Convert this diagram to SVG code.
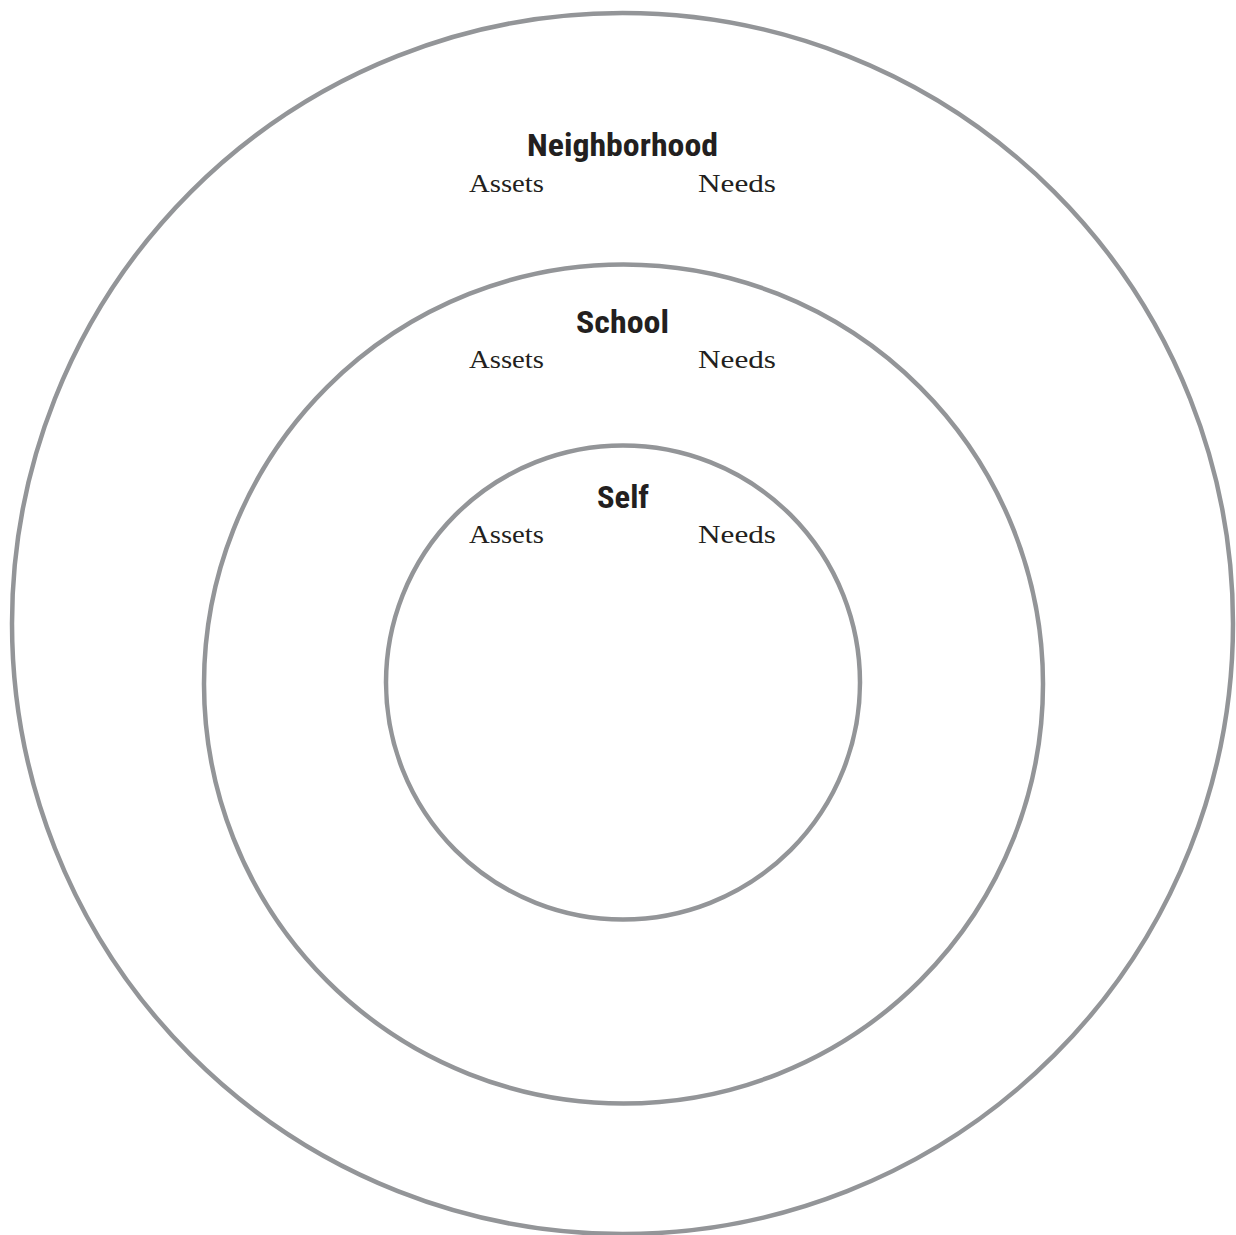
<svg xmlns="http://www.w3.org/2000/svg" width="1236" height="1235" viewBox="0 0 1236 1235">
<style>
.ring{fill:none;stroke:#939598;stroke-width:4.5}
.title{font-family:"Liberation Sans Narrow","Roboto Condensed","Liberation Sans",sans-serif;font-weight:bold;font-size:32px;fill:#231f20;text-anchor:middle}
.sub{font-family:"Liberation Serif",serif;font-size:26px;fill:#231f20}
</style>
<rect width="1236" height="1235" fill="#ffffff"/>
<g id="neighborhood">
<circle class="ring" cx="622.5" cy="623.5" r="610.5"/>
<text class="title" x="622.5" y="156" textLength="191" lengthAdjust="spacingAndGlyphs">Neighborhood</text>
<text class="sub" x="469" y="192" textLength="75" lengthAdjust="spacingAndGlyphs">Assets</text>
<text class="sub" x="698" y="192" textLength="78" lengthAdjust="spacingAndGlyphs">Needs</text>
</g>
<g id="school">
<circle class="ring" cx="623.5" cy="684" r="419.5"/>
<text class="title" x="622.5" y="333" textLength="93" lengthAdjust="spacingAndGlyphs">School</text>
<text class="sub" x="469" y="368" textLength="75" lengthAdjust="spacingAndGlyphs">Assets</text>
<text class="sub" x="698" y="368" textLength="78" lengthAdjust="spacingAndGlyphs">Needs</text>
</g>
<g id="self">
<circle class="ring" cx="623" cy="682.5" r="237"/>
<text class="title" x="623" y="508" textLength="52" lengthAdjust="spacingAndGlyphs">Self</text>
<text class="sub" x="469" y="543" textLength="75" lengthAdjust="spacingAndGlyphs">Assets</text>
<text class="sub" x="698" y="543" textLength="78" lengthAdjust="spacingAndGlyphs">Needs</text>
</g>
<g id="connectors"></g>
</svg>
